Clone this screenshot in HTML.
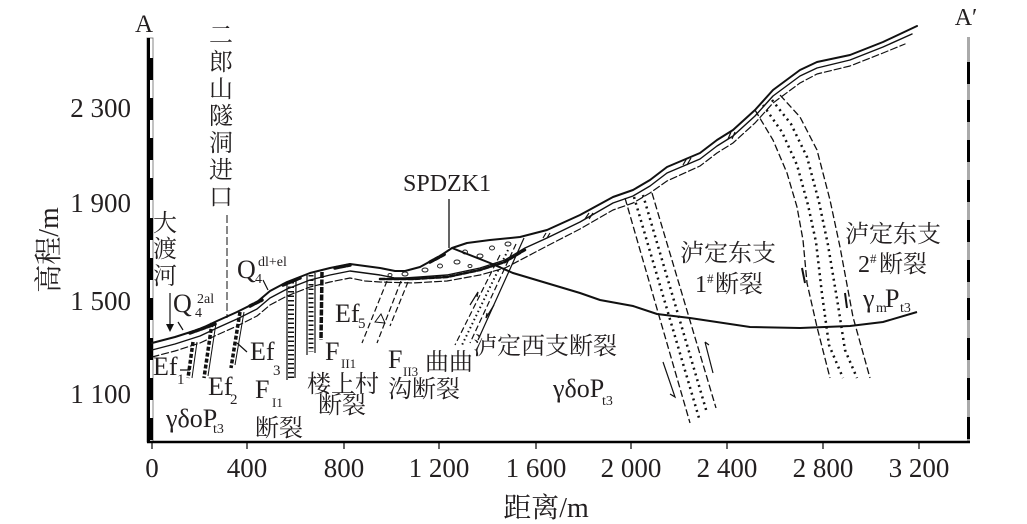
<!DOCTYPE html>
<html><head><meta charset="utf-8"><style>
html,body{margin:0;padding:0;background:#fff;}
svg{display:block;}
text{fill:#231f20;font-family:"Liberation Serif","Noto Serif CJK SC",serif;}
.cjk{font-family:"Liberation Serif","Noto Serif CJK SC","Noto Sans CJK SC",serif;}
</style></head><body>
<svg width="1027" height="524" viewBox="0 0 1027 524" xmlns="http://www.w3.org/2000/svg">
<rect width="1027" height="524" fill="#fff"/>

<!-- left axis bar -->
<rect x="147" y="38" width="6" height="404" fill="#fff" stroke="#666" stroke-width="0.8"/>
<rect x="147" y="38" width="3" height="404" fill="#000"/>
<g fill="#000">
<rect x="150" y="58" width="3" height="22"/><rect x="150" y="98" width="3" height="22"/>
<rect x="150" y="138" width="3" height="22"/><rect x="150" y="178" width="3" height="22"/>
<rect x="150" y="218" width="3" height="22"/><rect x="150" y="258" width="3" height="22"/>
<rect x="150" y="298" width="3" height="22"/><rect x="150" y="338" width="3" height="22"/>
<rect x="150" y="378" width="3" height="22"/><rect x="150" y="418" width="3" height="22"/>
</g>
<!-- right axis bar -->
<rect x="967" y="37" width="3" height="405" fill="#aaa"/>
<g fill="#000">
<rect x="967" y="62" width="3" height="22"/><rect x="967" y="100" width="3" height="22"/>
<rect x="967" y="140" width="3" height="22"/><rect x="967" y="180" width="3" height="22"/>
<rect x="967" y="220" width="3" height="22"/><rect x="967" y="260" width="3" height="22"/>
<rect x="967" y="298" width="3" height="22"/><rect x="967" y="338" width="3" height="22"/>
<rect x="967" y="378" width="3" height="22"/><rect x="967" y="417" width="3" height="22"/>
</g>
<!-- bottom axis -->
<line x1="147" y1="442" x2="970" y2="442" stroke="#000" stroke-width="2.5"/>
<g stroke="#000" stroke-width="1.2">
<line x1="152" y1="442" x2="152" y2="449"/><line x1="247" y1="442" x2="247" y2="449"/>
<line x1="344" y1="442" x2="344" y2="449"/><line x1="439" y1="442" x2="439" y2="449"/>
<line x1="536" y1="442" x2="536" y2="449"/><line x1="631" y1="442" x2="631" y2="449"/>
<line x1="727" y1="442" x2="727" y2="449"/><line x1="823" y1="442" x2="823" y2="449"/>
<line x1="919" y1="442" x2="919" y2="449"/>
</g>
<g font-size="27" text-anchor="middle">
<text x="152" y="477">0</text><text x="247" y="477">400</text><text x="344" y="477">800</text>
<text x="439" y="477">1 200</text><text x="536" y="477">1 600</text><text x="631" y="477">2 000</text>
<text x="727" y="477">2 400</text><text x="823" y="477">2 800</text><text x="919" y="477">3 200</text>
</g>
<g font-size="27" text-anchor="end">
<text x="131" y="117">2 300</text><text x="131" y="212">1 900</text>
<text x="131" y="310">1 500</text><text x="131" y="403">1 100</text>
</g>
<text class="cjk" x="546" y="517" font-size="28" text-anchor="middle">距离/m</text>
<text class="cjk" font-size="28" text-anchor="middle" transform="translate(58,250) rotate(-90)">高程/m</text>
<text x="144" y="32" font-size="25" text-anchor="middle">A</text>
<text x="966" y="25" font-size="24" text-anchor="middle">A′</text>

<!-- terrain surface -->
<g fill="none" stroke="#111" stroke-linejoin="round" stroke-linecap="round">
<path id="surf" d="M152,343 L175,337 L200,329 L217,321 L237,312 L257,302 L270,291 L287,282 L310,273 L330,268 L350,264 L365,266 L380,268 L395,271 L405,271 L420,267 L440,256 L452,248 L467,243 L490,240 L520,237 L547,230 L580,215 L613,197 L633,190 L650,180 L667,167 L700,153 L717,140 L733,130 L755,110 L773,90 L800,70 L817,62 L850,55 L883,42 L917,26" stroke-width="2"/>
<path d="M152,350 L175,344 L200,336 L217,328 L237,319 L257,309 L270,298 L287,289 L310,280 L330,275 L350,271 L365,273 L380,275 L395,278 L405,278 L420,277 L447,275 L480,268 L505,260 L525,248 L547,238 L580,222 L613,203 L633,196 L650,186 L667,173 L700,159 L717,146 L733,136 L755,116 L773,96 L800,76 L817,68 L850,60 L883,47 L912,34" stroke-width="1.4"/>
<path d="M152,357 L175,351 L200,343 L217,335 L237,326 L257,316 L270,305 L287,296 L310,287 L330,282 L350,278 L365,281 L380,282 L413,283 L447,281 L480,275 L505,268 L528,256 L547,246 L580,229 L613,210 L633,203 L650,193 L667,181 L700,166 L717,153 L733,143 L755,123 L773,103 L800,83 L817,74 L850,66 L883,53 L905,44" stroke-width="1.2" stroke-dasharray="7,3"/>
<!-- blotchy weathering on left -->
<path d="M190,333 L215,324 M250,306 L262,300 M283,285 L300,278 M335,268 L350,265 M430,262 L445,254" stroke-width="3.5" stroke-dasharray="4,2"/>
<path d="M380,279 L413,279 L447,277 L480,270 L505,262 L525,250" stroke-width="2.5" stroke-dasharray="5,2"/>
</g>
<!-- deposit pebbles -->
<g fill="none" stroke="#222" stroke-width="1">
<ellipse cx="405" cy="274" rx="3" ry="2"/><ellipse cx="425" cy="270" rx="3" ry="2"/>
<ellipse cx="440" cy="266" rx="2.5" ry="2"/><ellipse cx="457" cy="262" rx="3" ry="2"/>
<ellipse cx="465" cy="252" rx="2.5" ry="2"/><ellipse cx="480" cy="256" rx="3" ry="2"/>
<ellipse cx="492" cy="248" rx="2.5" ry="2"/><ellipse cx="508" cy="244" rx="3" ry="2"/>
<ellipse cx="470" cy="266" rx="2" ry="1.5"/><ellipse cx="390" cy="275" rx="2" ry="1.5"/>
</g>
<!-- marks on right band -->
<g stroke="#111" stroke-width="1.2">
<path d="M585,219 l4,-6 M589,219 l4,-6 M683,165 l4,-7 M687,165 l4,-7 M728,139 l3,-7 M732,139 l3,-7 M543,238 l3,-5 M547,238 l3,-5"/>
</g>

<!-- sub-horizontal boundary line -->
<path d="M452,248 L490,263 L513,273 L580,293 L600,300 L633,306 L657,314 L690,318 L750,327 L800,328 L850,326 L883,322 L917,312" fill="none" stroke="#111" stroke-width="2"/>

<!-- SPDZK1 leader -->
<line x1="449" y1="199" x2="449" y2="248" stroke="#111" stroke-width="1.3"/>

<!-- small faults left -->
<g fill="none" stroke="#111">
<path d="M193,342 L188,378" stroke-width="3.5" stroke-dasharray="4,2"/>
<path d="M197,342 L192,378" stroke-width="1"/>
<path d="M212,323 L204,378" stroke-width="3.5" stroke-dasharray="4,2"/>
<path d="M216,323 L208,376" stroke-width="1"/>
<path d="M240,312 L231,368" stroke-width="3.5" stroke-dasharray="4,2"/>
<path d="M244,312 L235,365" stroke-width="1"/>
<path d="M287,282 L287,380 M296,280 L295,378" stroke-width="1.2"/>
<path d="M291,282 L291,378" stroke-width="6" stroke-dasharray="1.5,3"/>
<path d="M307,275 L307,355 M315,273 L315,353" stroke-width="1.2"/>
<path d="M311,275 L311,352" stroke-width="5" stroke-dasharray="1.5,3"/>
<path d="M322,272 L321,340" stroke-width="3.5" stroke-dasharray="6,1.5"/>
<path d="M180,370 L190,370 M237,343 L247,352 M178,322 L183,330 M263,280 L268,290" stroke-width="1.2"/>
<!-- FII3 / Ef5 fault -->
<path d="M387,281 L362,343 M401,281 L377,343 M408,282 L390,326" stroke-width="1.2" stroke-dasharray="6,3"/>
<path d="M375,322 l6,-8 l4,9 z" stroke-width="1"/>
<!-- western branch fault -->
<path d="M500,255 L455,345 M516,244 L470,343" stroke-width="1.2" stroke-dasharray="6,3"/>
<path d="M524,238 L478,340" stroke-width="1.2"/>
<path d="M508,250 L462,345" stroke-width="2" stroke-dasharray="1.5,3"/>
<path d="M470,305 L478,292 l-1,5 M494,305 L486,318 l1,-5" stroke-width="1.2"/>
<!-- eastern branch 1# -->
<path d="M625,198 L690,423 M652,193 L716,408" stroke-width="1.3" stroke-dasharray="7,3"/>
<path d="M634,197 L699,418 M643,195 L707,413" stroke-width="2.5" stroke-dasharray="2,4"/>
<path d="M663,362 L675,397 l-5,-3 M705,342 L713,373 M705,342 l4,3" stroke-width="1.2"/>
<!-- eastern branch 2# -->
<path d="M755,110 L773,140 L787,173 L797,207 L803,240 L807,283 L817,327 L830,378" stroke-width="1.3" stroke-dasharray="7,3"/>
<path d="M780,95 L800,117 L817,150 L830,200 L840,247 L853,317 L870,378" stroke-width="1.3" stroke-dasharray="7,3"/>
<path d="M763,105 L782,132 L797,165 L808,205 L816,242 L822,294 L829,345 L843,378" stroke-width="2.5" stroke-dasharray="2,4"/>
<path d="M772,100 L791,124 L807,157 L819,202 L828,245 L838,305 L845,350 L857,378" stroke-width="2.5" stroke-dasharray="2,4"/>
<path d="M802,268 L805,283 M845,293 L847,308" stroke-width="2"/>
<!-- tunnel entrance dashed line -->
<path d="M227,215 L227,318" stroke-width="1" stroke-dasharray="8,3"/>
<!-- arrow Q4 2al -->
<path d="M170,293 L170,328" stroke-width="1.2"/>
</g>
<path d="M166,324 L170,332 L174,324 z" fill="#111"/>

<!-- vertical texts -->
<g class="cjk" font-size="24" text-anchor="middle">
<text x="221" y="43">二</text><text x="221" y="70">郎</text><text x="221" y="97">山</text>
<text x="221" y="124">隧</text><text x="221" y="151">洞</text><text x="221" y="178">进</text>
<text x="221" y="205">口</text>
<text x="165" y="231">大</text><text x="165" y="257">渡</text><text x="165" y="284">河</text>
</g>

<!-- labels -->
<g font-size="26">
<text x="173" y="312">Q</text><text x="195" y="317" font-size="14">4</text><text x="197" y="303" font-size="14">2al</text>
<text x="237" y="278">Q</text><text x="255" y="283" font-size="14">4</text><text x="258" y="266" font-size="14">dl+el</text>
<text x="153" y="375">Ef</text><text x="177" y="384" font-size="15">1</text>
<text x="208" y="395">Ef</text><text x="230" y="404" font-size="15">2</text>
<text x="250" y="360">Ef</text><text x="273" y="375" font-size="15">3</text>
<text x="255" y="398">F</text><text x="272" y="407" font-size="13">I1</text>
<text x="166" y="427">γδoP</text><text x="213" y="433" font-size="14">t3</text>
<text x="325" y="360">F</text><text x="341" y="368" font-size="13">II1</text>
<text x="335" y="322">Ef</text><text x="358" y="328" font-size="15">5</text>
<text x="388" y="368">F</text><text x="403" y="376" font-size="13">II3</text>
<text x="553" y="397">γδoP</text><text x="602" y="405" font-size="14">t3</text>
<text x="403" y="191" font-size="24">SPDZK1</text>
<text x="863" y="307">γ</text><text x="876" y="312" font-size="14">m</text><text x="885" y="307">P</text><text x="900" y="312" font-size="14">t3</text>
<text x="695" y="292" font-size="24">1</text><text x="707" y="283" font-size="13">#</text>
<text x="858" y="272" font-size="24">2</text><text x="870" y="263" font-size="13">#</text>
</g>
<g class="cjk" font-size="24">
<text x="255" y="436">断裂</text>
<text x="307" y="392">楼上村</text>
<text x="318" y="413">断裂</text>
<text x="425" y="370">曲曲</text>
<text x="388" y="397">沟断裂</text>
<text x="473" y="354">泸定西支断裂</text>
<text x="680" y="261">泸定东支</text>
<text x="715" y="292">断裂</text>
<text x="845" y="242">泸定东支</text>
<text x="879" y="272">断裂</text>
</g>
</svg>
</body></html>
